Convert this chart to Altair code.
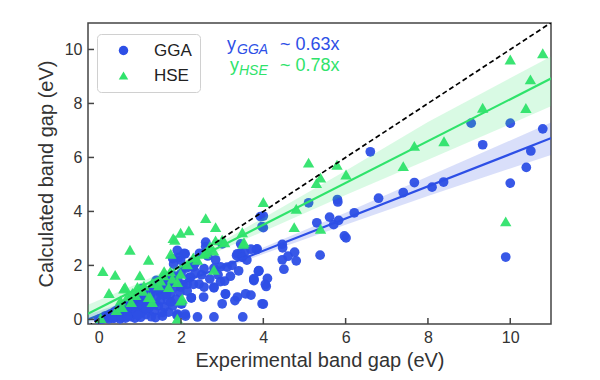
import altair as alt
import pandas as pd

# ---------------- data ----------------
gga_x = [6.60, 9.05, 10.0, 10.79, 9.33, 10.5, 10.39, 10.0, 9.89, 8.38, 8.10, 7.67, 7.40, 6.80, 6.21,
         5.80, 5.81, 5.10, 5.61, 5.83, 5.71, 5.30, 5.97, 6.01, 5.38, 4.0, 4.0, 3.83, 4.46, 4.47,
         4.76, 4.60, 4.46, 4.80, 4.50, 3.88, 3.77, 4.10, 4.07, 4.0,
         3.93, 3.97, 3.85, 4.05, 3.77, 3.89, 3.31, 3.0, 3.08, 3.06, 2.80, 2.84, 3.35, 3.45, 3.55,
         3.0, 3.45, 2.60, 2.60, 3.37, 3.49, 2.10, 1.99, 1.91, 2.07, 2.3, 2.56, 2.8, 2.96, 3.12,
         3.24, 3.77, 3.89, 2.23, 2.44, 2.56, 2.80, 2.96, 2.15, 1.99, 3.08, 3.37, 3.57, 3.7, 3.97,
         2.40, 2.80, 3.50, 2.11, 2.55, 2.25, 2.0, 1.91, 2.7, 2.9, 3.2, 3.4, 2.5, 2.35, 2.65, 3.6, 3.7,
         0.0, 0.05, 0.1, 0.12, 0.18, 0.2, 0.25, 0.28, 0.3, 0.35, 0.38, 0.4, 0.42, 0.45, 0.48, 0.5,
         0.52, 0.55, 0.58, 0.6, 0.62, 0.65, 0.68, 0.7, 0.72, 0.75, 0.78, 0.8, 0.82, 0.85, 0.88, 0.9,
         0.92, 0.95, 0.98, 1.0, 1.02, 1.05, 1.08, 1.1, 1.12, 1.15, 1.18, 1.2, 1.22, 1.25, 1.28, 1.3,
         1.32, 1.35, 1.38, 1.4, 1.42, 1.45, 1.48, 1.5, 1.52, 1.55, 1.58, 1.6, 1.62, 1.65, 1.68, 1.7,
         1.72, 1.75, 1.78, 1.8, 1.82, 1.85, 1.88, 1.9, 1.92, 1.95, 1.97, 2.0, 2.02, 2.05, 2.08, 2.1,
         2.12, 2.15, 2.2, 2.25, 2.28, 2.3, 2.35,
         0.15, 0.3, 0.45, 0.6, 0.75, 0.9, 1.05, 1.2, 0.35, 0.55, 0.7, 0.95, 1.15, 1.35, 1.55, 1.75,
         1.25, 1.45, 1.65, 1.85, 1.05, 1.6, 1.4, 1.8, 2.2, 2.45]
gga_y = [6.21, 7.27, 7.27, 7.06, 6.47, 6.24, 5.63, 5.05, 2.31, 5.09, 4.90, 5.07, 4.70, 4.49, 3.95,
         4.44, 4.35, 4.32, 3.79, 3.67, 3.51, 3.58, 3.09, 3.02, 2.38, 3.83, 3.40, 2.59, 2.78, 2.65,
         2.49, 2.34, 2.21, 2.17, 1.86, 1.78, 1.47, 1.52, 1.22, 0.57,
         3.81, 3.44, 2.61, 1.30, 1.44, 1.79, 0.70, 0.58, 0.93, 1.42, 1.17, 2.21, 2.37, 2.45, 2.50,
         2.80, 2.80, 2.86, 2.70, 2.43, 2.30, 2.43, 2.20, 2.56, 1.94, 1.95, 1.88, 1.90, 1.95, 1.94,
         2.00, 1.51, 1.81, 1.57, 1.31, 1.20, 1.20, 1.40, 1.30, 1.20, 0.95, 0.83, 0.95, 0.90, 0.58,
         0.09, 0.09, 0.09, 0.12, 0.83, 0.80, 0.58, 0.20, 1.50, 1.65, 1.60, 1.80, 1.65, 2.10, 2.35, 2.20, 2.60,
         0.0, 0.03, 0.02, 0.08, 0.05, 0.14, 0.02, 0.20, 0.10, 0.25, 0.05, 0.18, 0.32, 0.10, 0.38, 0.25,
         0.02, 0.42, 0.15, 0.50, 0.30, 0.05, 0.55, 0.20, 0.40, 0.62, 0.10, 0.48, 0.30, 0.70, 0.05, 0.58,
         0.20, 0.78, 0.40, 0.65, 0.08, 0.85, 0.30, 0.55, 0.95, 0.18, 0.72, 1.05, 0.42, 0.88, 0.10, 0.60,
         1.12, 0.30, 0.07, 0.80, 1.20, 0.50, 1.00, 0.70, 1.35, 0.25, 0.90, 0.46, 1.50, 1.15, 0.70, 0.27,
         1.30, 0.95, 1.62, 0.50, 2.05, 1.20, 0.75, 0.15, 1.45, 2.30, 1.00, 1.70, 0.58, 1.30, 2.45, 0.20,
         1.90, 1.05, 1.55, 0.80, 2.15, 1.30, 1.75,
         0.12, 0.15, 0.22, 0.35, 0.45, 0.45, 0.55, 0.60, 0.05, 0.08, 0.12, 0.15, 0.40, 0.55, 0.12, 0.65,
         0.98, 1.10, 0.95, 1.60, 1.15, 1.35, 1.45, 2.25, 1.95, 2.45]

hse_x = [10.0, 10.79, 10.49, 9.33, 10.38, 8.39, 7.67, 7.40, 5.79, 5.10, 6.01, 5.39, 5.29, 4.80, 4.75,
         5.39, 4.0, 9.89,
         2.60, 2.84, 1.99, 2.19, 1.81, 1.85, 3.53, 3.51, 3.49, 3.06, 3.0, 2.84, 2.60, 2.56, 2.79, 2.40,
         2.15, 1.99, 1.79, 1.59, 1.50, 1.91, 1.99, 1.91, 2.80, 2.03, 1.75, 2.3, 2.7, 1.7, 1.46, 1.58, 1.74,
         0.10, 0.40, 0.25, 0.76, 1.21, 1.0, 0.64, 0.82, 0.53, 0.57, 0.79, 1.0, 1.25, 1.30, 1.30, 1.07,
         0.94, 0.43, 0.61, 1.21, 0.9, 1.1, 0.7, 0.05]
hse_y = [9.63, 9.86, 8.89, 7.84, 7.83, 6.60, 6.43, 5.68, 5.73, 5.81, 5.37, 5.25, 5.05, 4.10, 3.42,
         3.36, 4.35, 3.63,
         3.75, 3.42, 3.21, 3.30, 3.01, 2.95, 2.86, 2.80, 3.23, 2.86, 2.95, 2.93, 2.49, 2.43, 2.55, 2.21,
         2.04, 1.69, 1.51, 1.79, 1.44, 1.38, 0.70, 0.03, 1.84, 0.77, 2.43, 2.30, 2.70, 1.20, 1.26, 1.63, 1.78,
         1.79, 1.65, 0.98, 2.58, 2.21, 1.63, 1.20, 0.98, 0.70, 0.46, 0.64, 1.14, 0.83, 1.35, 0.64, 1.06,
         1.20, 0.35, 1.14, 0.83, 0.90, 1.25, 0.85, 0.05]

fit_x = [-0.26, 11.0]
gga_fit = [0.0, 6.72]
hse_fit = [0.21, 8.93]

band_x = [-0.26, 1.0, 2.0, 3.0, 4.0, 6.0, 8.0, 11.0]
gga_lo = [-0.17, 0.66, 1.27, 1.86, 2.42, 3.51, 4.57, 6.10]
gga_hi = [0.17, 0.84, 1.41, 2.02, 2.66, 3.95, 5.29, 7.30]
hse_lo = [-0.10, 1.02, 1.84, 2.59, 3.26, 4.61, 5.91, 7.90]
hse_hi = [0.54, 1.36, 2.08, 2.89, 3.76, 5.51, 7.31, 9.75]

diag = [-0.26, 11.0]
x_ticks = [0, 2, 4, 6, 8, 10]
y_ticks = [0, 2, 4, 6, 8, 10]
methods = ["GGA", "HSE"]

# ---------------- styling ----------------
BLUE = "#2d4fe6"
GREEN = "#2fe36b"
FONT = "Liberation Sans"
W, H = 463, 301

xs = alt.Scale(domain=[-0.26, 10.99], nice=False, zero=False)
ys = alt.Scale(domain=[-0.17, 10.98], nice=False, zero=False)
xaxis = alt.Axis(values=x_ticks, title="Experimental band gap (eV)", ticks=False, tickSize=0,
                 domain=False, grid=False, labelPadding=5, titlePadding=5, format="d")
yaxis = alt.Axis(values=y_ticks, title="Calculated band gap (eV)", ticks=False, tickSize=0,
                 domain=False, grid=False, labelPadding=6, titlePadding=8, format="d")


def X(field):
    return alt.X(f"{field}:Q", scale=xs, axis=xaxis)


def Y(field):
    return alt.Y(f"{field}:Q", scale=ys, axis=yaxis)


pts = pd.DataFrame({
    "x": gga_x + hse_x,
    "y": gga_y + hse_y,
    "method": ["GGA"] * len(gga_x) + ["HSE"] * len(hse_x),
})

legend = alt.Legend(title=None, orient="none", legendX=9, legendY=11, labelFontSize=17,
                    labelFont=FONT, labelColor="#222", symbolSize=90, symbolStrokeWidth=0,
                    padding=8, strokeColor="#d0d0d0", cornerRadius=4, fillColor="white",
                    symbolOffset=10, labelOffset=22, rowPadding=7, symbolOpacity=1)
color = alt.Color("method:N", scale=alt.Scale(domain=methods, range=[BLUE, GREEN]), legend=legend)
shape = alt.Shape("method:N", scale=alt.Scale(domain=methods, range=["circle", "triangle-up"]),
                  legend=legend)

band_df = pd.DataFrame({"bx": band_x, "glo": gga_lo, "ghi": gga_hi, "hlo": hse_lo, "hhi": hse_hi})
fit_df = pd.DataFrame({"fx": fit_x, "gfit": gga_fit, "hfit": hse_fit})
diag_df = pd.DataFrame({"dx": diag, "dy": diag})

gga_pts = alt.Chart(pts).transform_filter("datum.method == 'GGA'").mark_point(
    filled=True, size=95, opacity=0.95).encode(x=X("x"), y=Y("y"), color=color, shape=shape)
hse_pts = alt.Chart(pts).transform_filter("datum.method == 'HSE'").mark_point(
    filled=True, size=130, opacity=0.95).encode(x=X("x"), y=Y("y"), color=color, shape=shape)

gga_band = alt.Chart(band_df).mark_area(color=BLUE, opacity=0.18, clip=True).encode(
    x=X("bx"), y=Y("glo"), y2="ghi:Q")
hse_band = alt.Chart(band_df).mark_area(color=GREEN, opacity=0.18, clip=True).encode(
    x=X("bx"), y=Y("hlo"), y2="hhi:Q")
gga_line = alt.Chart(fit_df).mark_line(color=BLUE, strokeWidth=2.2, clip=True).encode(
    x=X("fx"), y=Y("gfit"))
hse_line = alt.Chart(fit_df).mark_line(color=GREEN, strokeWidth=2.2, clip=True).encode(
    x=X("fx"), y=Y("hfit"))
diag_line = alt.Chart(diag_df).mark_line(color="black", strokeWidth=1.7, strokeDash=[5, 3],
                                         clip=True).encode(x=X("dx"), y=Y("dy"))

xt_df = pd.DataFrame({"xt": x_ticks})
yt_df = pd.DataFrame({"yt": y_ticks})
x_tk = alt.Chart(xt_df).mark_rule(color="#444", strokeWidth=1.5).encode(
    x=X("xt"), y=alt.value(H), y2=alt.value(H - 6))
y_tk = alt.Chart(yt_df).mark_rule(color="#444", strokeWidth=1.5).encode(
    y=Y("yt"), x=alt.value(0), x2=alt.value(6))


def txt(s, px, py, color, size, italic=False):
    return alt.Chart(pd.DataFrame({"t": [s]})).mark_text(
        align="left", baseline="alphabetic", font=FONT, fontSize=size, color=color,
        fontStyle="italic" if italic else "normal").encode(
        text="t:N", x=alt.value(px), y=alt.value(py))


notes = [
    txt("y", 139, 27, BLUE, 18),
    txt("GGA", 149, 31, BLUE, 14, True),
    txt("~ 0.63x", 192, 27, BLUE, 18),
    txt("y", 142, 48, GREEN, 18),
    txt("HSE", 151, 51.5, GREEN, 14, True),
    txt("~ 0.78x", 192, 48, GREEN, 18),
]

chart = alt.layer(
    gga_pts, gga_band, gga_line, hse_pts, hse_band, hse_line, diag_line, x_tk, y_tk, *notes
).properties(
    width=W, height=H,
    autosize=alt.AutoSizeParams(type="none"),
    padding={"left": 80, "top": 15, "right": 30, "bottom": 56},
).configure_view(
    stroke="#444", strokeWidth=1.5
).configure_axis(
    labelFont=FONT, titleFont=FONT, labelFontSize=16, titleFontSize=20,
    labelColor="#333", titleColor="#333", titleFontWeight="normal"
)

chart.save("out.html", embed_options={"renderer": "svg", "actions": False})
